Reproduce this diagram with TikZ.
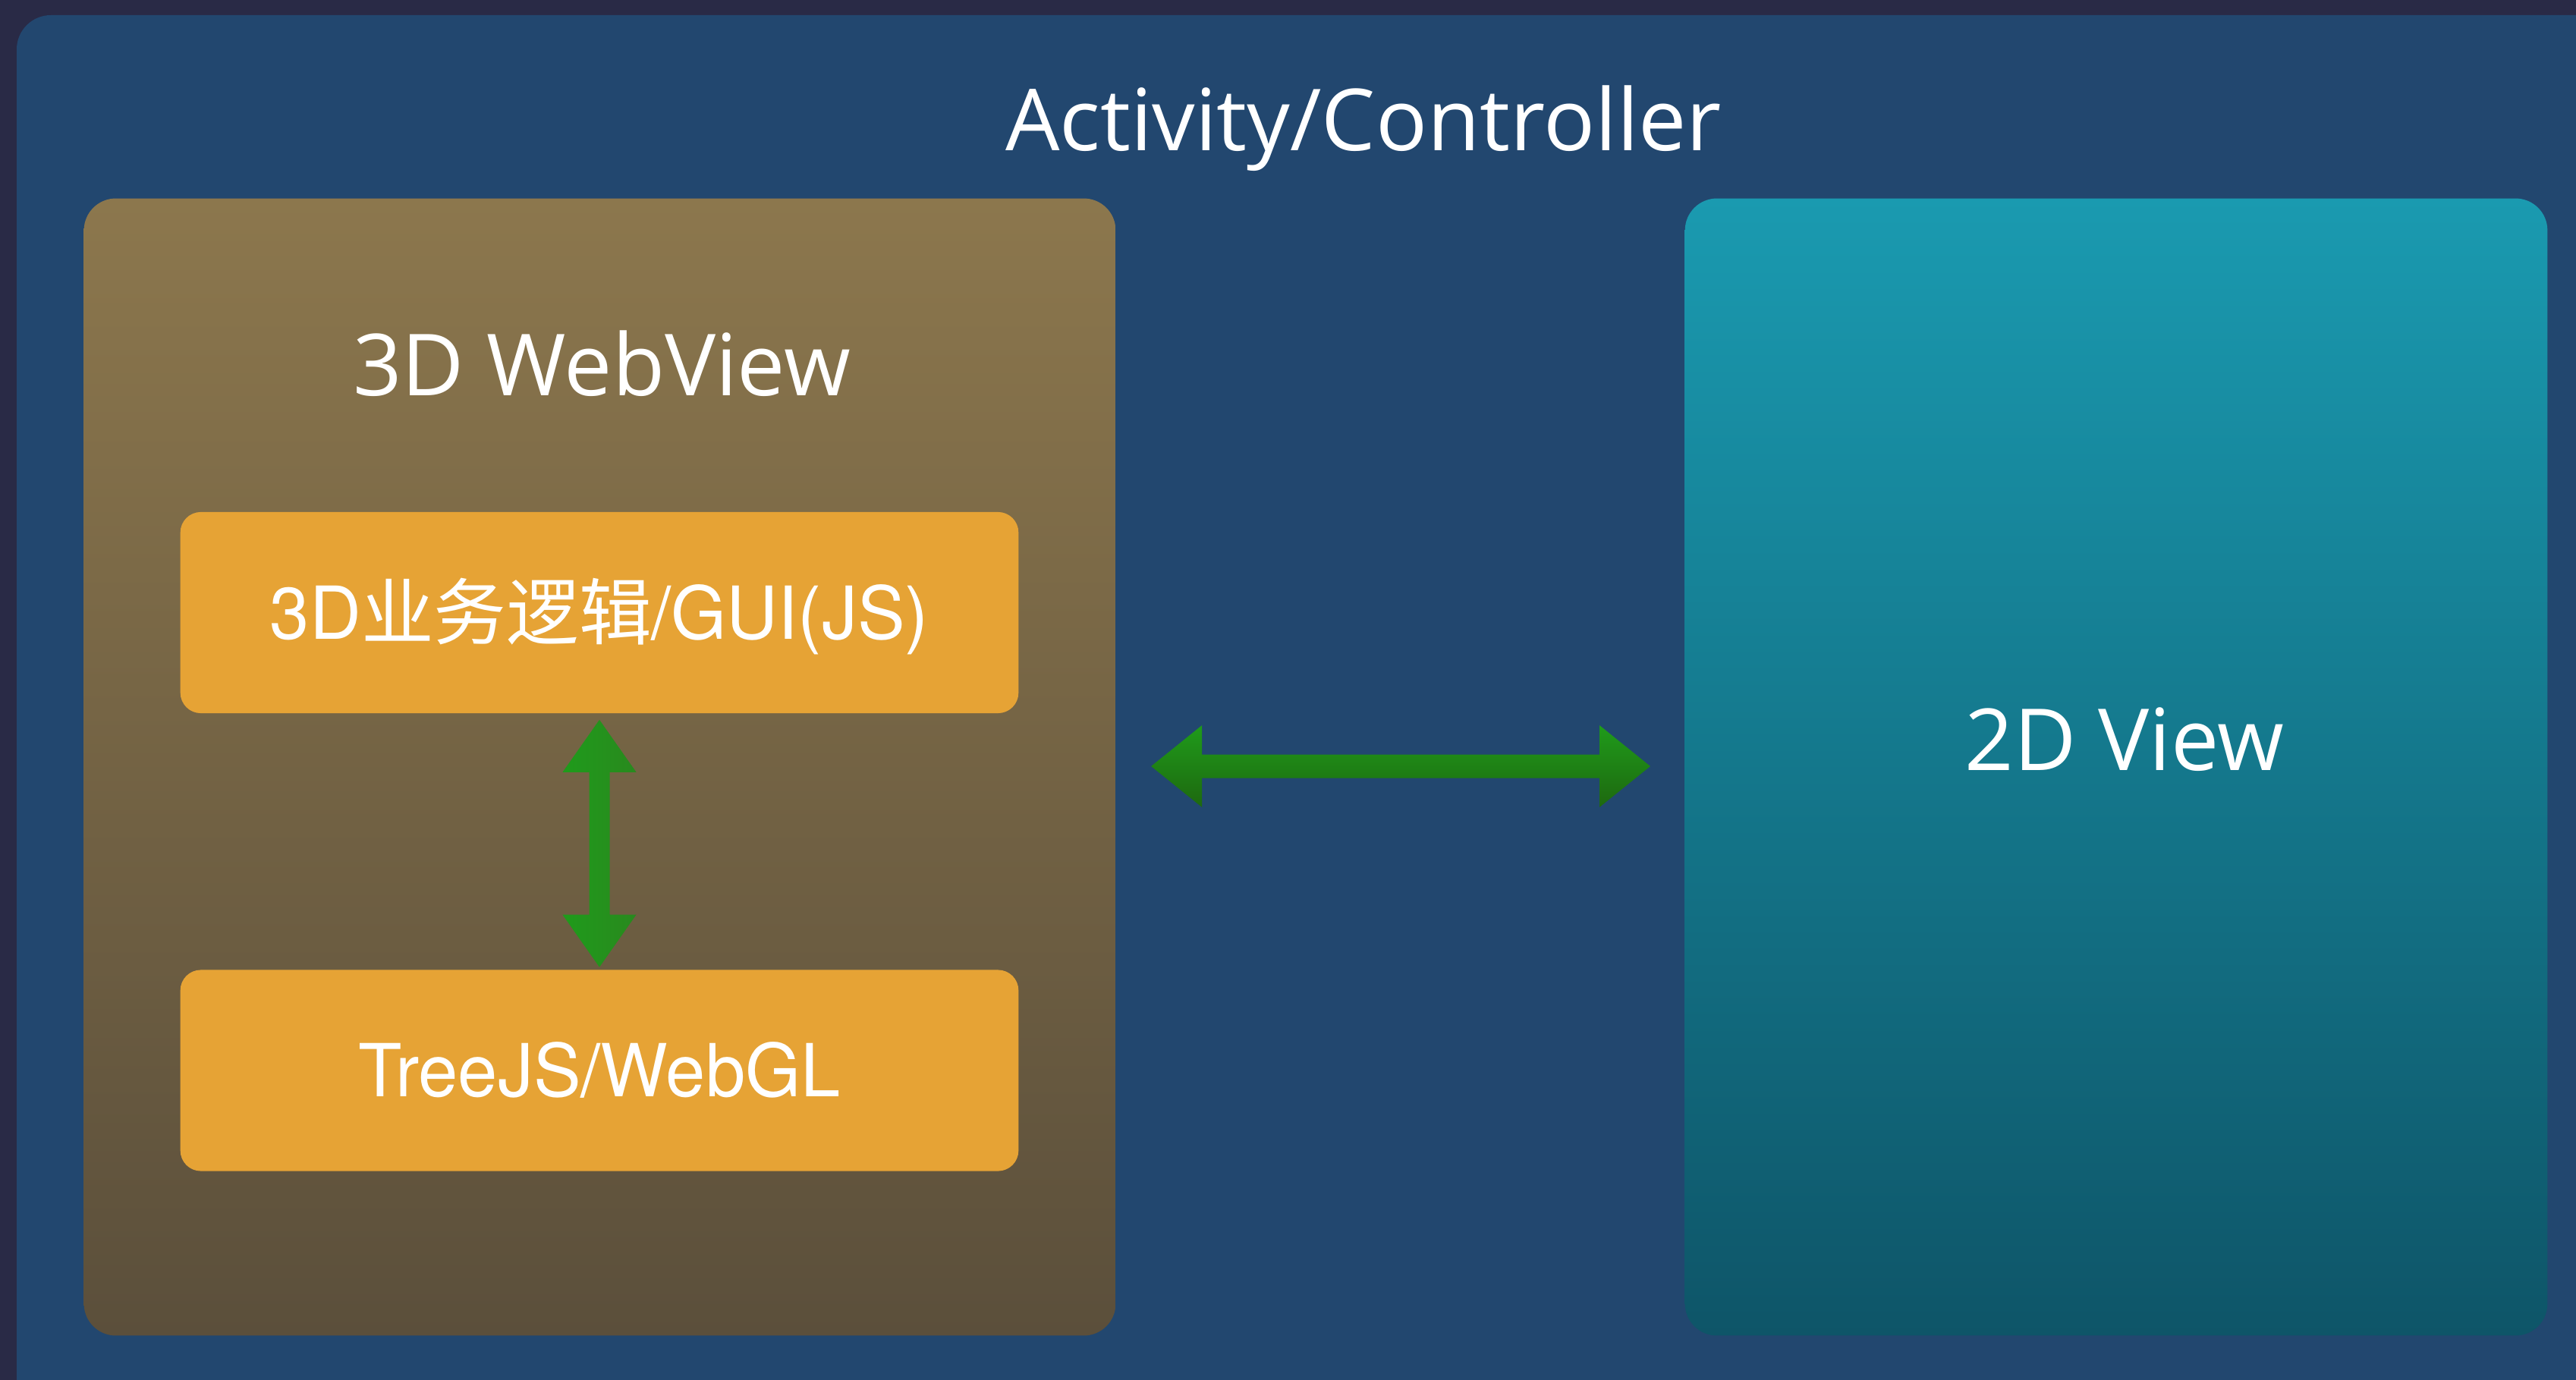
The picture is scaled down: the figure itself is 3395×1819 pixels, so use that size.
\documentclass[tikz,border=0pt]{standalone}
\usepackage{graphicx}
\usepackage{fontspec}
\setmainfont{Open Sans}
\newfontfamily\helv{TeX Gyre Heros}
\newfontfamily\cjk{Noto Sans CJK SC}
\usetikzlibrary{calc}

\definecolor{pagebg}{RGB}{41,42,70}
\definecolor{ctrlbg}{RGB}{34,71,111}
\definecolor{webtop}{RGB}{140,119,77}
\definecolor{webbot}{RGB}{91,79,59}
\definecolor{viewtop}{RGB}{26,154,176}
\definecolor{viewbot}{RGB}{14,85,104}
\definecolor{layer}{RGB}{230,163,53}
\definecolor{linkA}{RGB}{31,155,27}
\definecolor{linkB}{RGB}{41,137,30}
\definecolor{linkC}{RGB}{30,104,15}

\tikzset{
  panelbox/.style={rounded corners=0.42cm, inner sep=0pt, draw=none},
  layerbox/.style={fill=layer, rounded corners=0.27cm, inner sep=0pt,
    minimum width=11.04cm, minimum height=2.65cm, text=white,
    text height=0.69cm, text depth=0pt},
  heading/.style={text=white, inner sep=0pt, font=\fontsize{32.1}{38}\selectfont},
  layerfont/.style={font=\helv\fontsize{27.4}{32}\selectfont}
}

\begin{document}
\begin{tikzpicture}[x=0.01cm, y=-0.01cm]
  \useasboundingbox (0,0) rectangle (3395,1819);
  \clip (0,0) rectangle (3395,1819);
  \fill[pagebg] (0,0) rectangle (3395,1819);

  % controller panel, running off the right and bottom edges
  \fill[ctrlbg, rounded corners=0.45cm] (22,20) rectangle (3460,1880);
  \node[heading, anchor=base] (ctrlT) at (1797,199) {Activity/Controller};

  % 3D web view container
  \node[panelbox, top color=webtop, bottom color=webbot,
        minimum width=13.59cm, minimum height=14.98cm] (web) at (790.5,1011) {};
  \node[heading, anchor=base] (webT) at (793,522) {3D WebView};

  % 2D view container
  \node[panelbox, top color=viewtop, bottom color=viewbot,
        minimum width=11.36cm, minimum height=14.98cm] (view) at (2789,1011) {};
  \node[heading, anchor=base] (viewT) at (2800,1015) {2D View};

  % layers inside the web view
  \node[layerbox, layerfont] (gui) at (790,807.5)
    {\scalebox{0.975}[1]{3D}{\cjk\fontsize{27.2}{32}\selectfont 业务逻辑}\scalebox{0.975}[1]{/GUI(JS)}};
  \node[layerbox, layerfont] (gl) at (790,1411)
    {\scalebox{0.975}[1]{TreeJS/WebGL}};

  % vertical two-way link between the layers
  \coordinate (vT) at ($(gui.south)+(0,8)$);
  \coordinate (vB) at ($(gl.north)+(0,-3)$);
  \shade[left color=linkA, right color=linkB]
    (vT) -- ($(vT)+(48.5,69)$) -- ($(vT)+(13.5,69)$) -- ($(vB)+(13.5,-69)$)
    -- ($(vB)+(48.5,-69)$) -- (vB) -- ($(vB)+(-48.5,-69)$) -- ($(vB)+(-13.5,-69)$)
    -- ($(vT)+(-13.5,69)$) -- ($(vT)+(-48.5,69)$) -- cycle;

  % horizontal two-way link between the views
  \coordinate (hL) at ($(web.east)+(46,-1)$);
  \coordinate (hR) at ($(view.west)+(-45,-1)$);
  \shade[top color=linkA, bottom color=linkC]
    (hL) -- ($(hL)+(67,-54)$) -- ($(hL)+(67,-15.5)$) -- ($(hR)+(-67,-15.5)$)
    -- ($(hR)+(-67,-54)$) -- (hR) -- ($(hR)+(-67,54)$) -- ($(hR)+(-67,15.5)$)
    -- ($(hL)+(67,15.5)$) -- ($(hL)+(67,54)$) -- cycle;
\end{tikzpicture}
\end{document}
